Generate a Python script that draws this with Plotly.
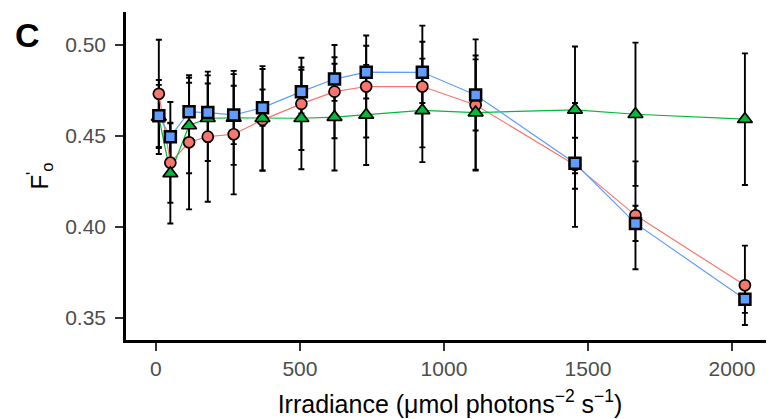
import plotly.graph_objects as go

# Irradiance levels (x)
irradiance = [10, 50, 115, 180, 270, 370, 505, 620, 730, 925, 1110, 1455, 1665, 2045]

# Series means (F'o)
red_mean = [0.4731, 0.4353, 0.4465, 0.4496, 0.4509, 0.4588, 0.4676, 0.4743, 0.4771, 0.4771, 0.4670, 0.4341, 0.4064, 0.3680]
green_mean = [0.4604, 0.4294, 0.4557, 0.4597, 0.4599, 0.4597, 0.4597, 0.4603, 0.4615, 0.4640, 0.4628, 0.4643, 0.4619, 0.4592]
blue_mean = [0.4610, 0.4496, 0.4632, 0.4628, 0.4615, 0.4655, 0.4743, 0.4812, 0.4850, 0.4849, 0.4725, 0.4350, 0.4020, 0.3604]

# Error (sd)
red_err = [0.0297, 0.0220, 0.0368, 0.0357, 0.0330, 0.0279, 0.0253, 0.0256, 0.0280, 0.0334, 0.0360, 0.0340, 0.0296, 0.0218]
green_err = [0.0203, 0.0275, 0.0262, 0.0235, 0.0258, 0.0286, 0.0280, 0.0293, 0.0275, 0.0284, 0.0313, 0.0348, 0.0393, 0.0361]
blue_err = [0.0170, 0.0190, 0.0160, 0.0160, 0.0160, 0.0100, 0.0120, 0.0120, 0.0145, 0.0168, 0.0195, 0.0140, 0.0097, 0.0075]

x_ticks = [0, 500, 1000, 1500, 2000]
y_ticks = [0.35, 0.40, 0.45, 0.50]

series = [
    dict(name="red", y=red_mean, e=red_err, color="#F8766D", symbol="circle", size=11, lw=1.7),
    dict(name="green", y=green_mean, e=green_err, color="#00BA38", symbol="triangle-up", size=13, lw=1.7),
    dict(name="blue", y=blue_mean, e=blue_err, color="#619CFF", symbol="square", size=11, lw=2.5),
]

fig = go.Figure()

# error bars (under everything)
for s in series:
    fig.add_trace(go.Scatter(
        x=irradiance, y=s["y"], mode="lines", line=dict(width=0),
        error_y=dict(type="data", array=s["e"], visible=True, color="black",
                     thickness=1.9, width=3),
        showlegend=False, hoverinfo="skip"))

# connecting lines
for s in series:
    fig.add_trace(go.Scatter(
        x=irradiance, y=s["y"], mode="lines",
        line=dict(color=s["color"], width=1.2),
        showlegend=False, hoverinfo="skip"))

# markers
for s in series:
    fig.add_trace(go.Scatter(
        x=irradiance, y=s["y"], mode="markers", name=s["name"],
        marker=dict(symbol=s["symbol"], size=s["size"], color=s["color"],
                    line=dict(color="black", width=s["lw"])),
        showlegend=False))

font_family = "Liberation Sans, Arial, Helvetica, sans-serif"

# page body has an 8px default margin: size the figure to fit the window
fig.update_layout(
    width=766, height=411,
    margin=dict(l=118, r=0, t=4, b=79),
    paper_bgcolor="white", plot_bgcolor="white",
    font=dict(family=font_family, color="black"),
    showlegend=False,
    annotations=[dict(
        text="<b>C</b>", xref="paper", yref="paper",
        x=-0.175, y=0.931, xanchor="left", yanchor="middle",
        showarrow=False, font=dict(size=34, color="black", family=font_family))],
)

fig.update_xaxes(
    range=[-104, 2146], tickvals=x_ticks, ticktext=[str(v) for v in x_ticks],
    showgrid=False, zeroline=False, automargin=False,
    showline=True, linecolor="black", linewidth=2.5,
    ticks="outside", ticklen=8, tickwidth=2, tickcolor="#333333",
    tickfont=dict(size=21, color="#4D4D4D"),
    title=dict(text="Irradiance (μmol photons<sup>−2</sup> s<sup>−1</sup>)",
               font=dict(size=25, color="black"), standoff=17),
)

fig.update_yaxes(
    range=[0.338, 0.518], tickvals=y_ticks, ticktext=["%.2f" % v for v in y_ticks],
    showgrid=False, zeroline=False, automargin=False,
    showline=True, linecolor="black", linewidth=2.5,
    ticks="outside", ticklen=8, tickwidth=2, tickcolor="#333333",
    tickfont=dict(size=21, color="#4D4D4D"),
    ticklabelstandoff=5,
    title=dict(text="F<sup>'</sup><sub>o</sub>", font=dict(size=24, color="black"), standoff=10),
)

fig.write_html("out.html")
